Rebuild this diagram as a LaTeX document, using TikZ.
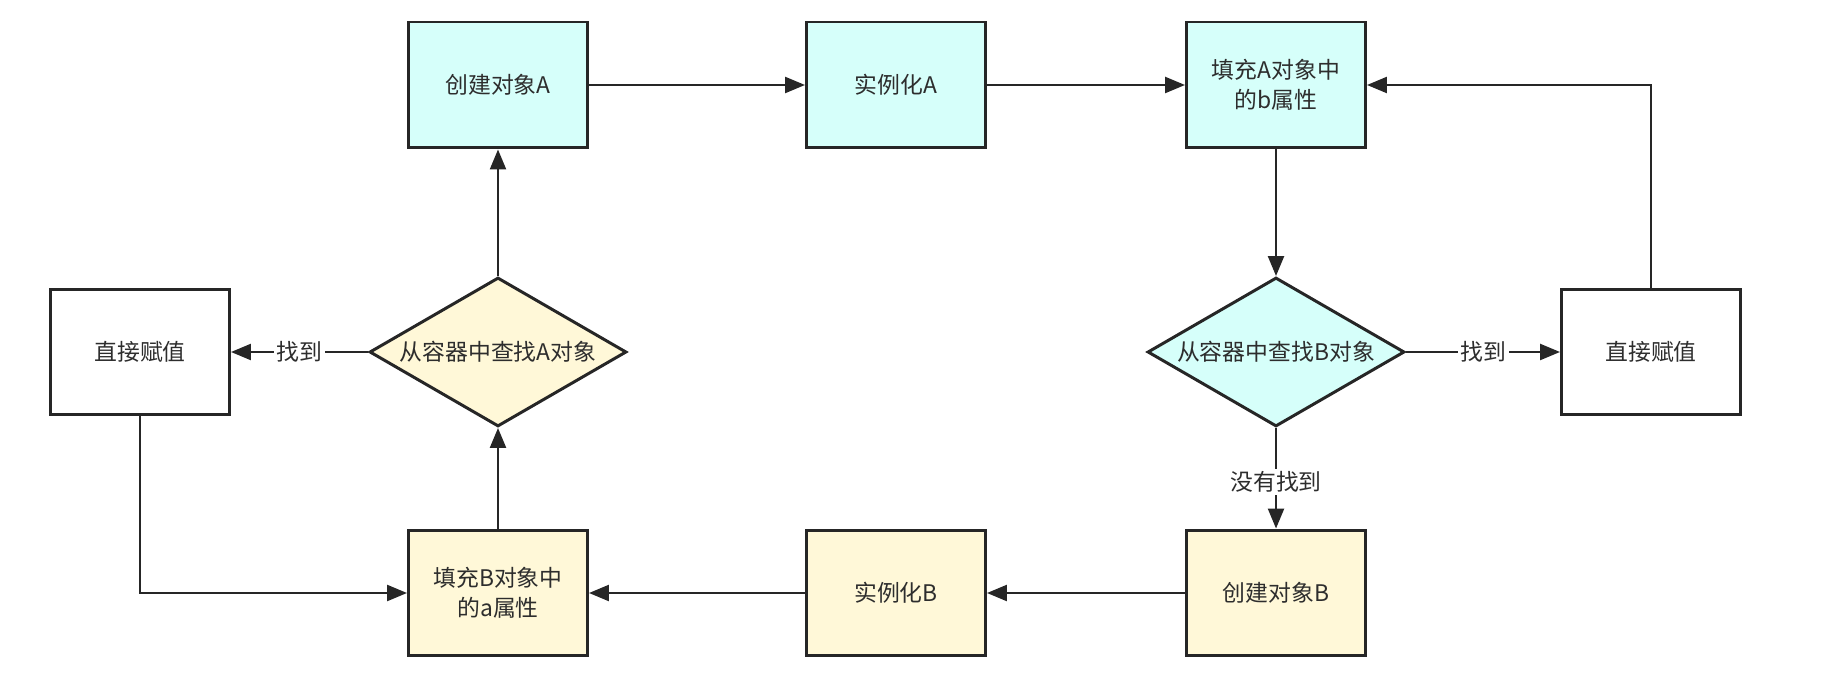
\documentclass[tikz,border=0pt]{standalone}
\usepackage{fontspec}
\newfontfamily\cjk{Noto Sans CJK SC}
\usetikzlibrary{shapes.geometric,arrows.meta}
\definecolor{boxline}{RGB}{38,38,38}
\definecolor{txt}{RGB}{45,45,45}
\definecolor{cyanfill}{RGB}{214,255,250}
\definecolor{yelfill}{RGB}{255,248,216}
\tikzset{
  every node/.style={font=\cjk\fontsize{13pt}{17pt}\selectfont,text=txt},
  stepbox/.style={draw=boxline,line width=1.7pt,minimum width=3.58cm,minimum height=2.52cm,align=center,inner sep=0pt},
  check/.style={draw=boxline,line width=1.7pt,diamond,aspect=1.72,minimum width=5.14cm,minimum height=2.98cm,inner sep=0pt},
  flow/.style={draw=boxline,line width=1.35pt,-{Triangle[length=0.4cm,width=0.32cm]}},
  lbl/.style={fill=white,inner sep=1.5pt}
}
\begin{document}
\begin{tikzpicture}[x=0.02cm,y=-0.02cm]
  \useasboundingbox (0,0) rectangle (1844,695);
  % top row
  \node [stepbox,fill=cyanfill] (ca) at (498,85) {创建对象A};
  \node [stepbox,fill=cyanfill] (ia) at (896,85) {实例化A};
  \node [stepbox,fill=cyanfill] (fa) at (1276,85) {填充A对象中\\的b属性};
  % middle row
  \node [stepbox] (vl) at (140,352) {直接赋值};
  \node [check,fill=yelfill] (da) at (498,352) {从容器中查找A对象};
  \node [check,fill=cyanfill] (db) at (1276,352) {从容器中查找B对象};
  \node [stepbox] (vr) at (1651,352) {直接赋值};
  % bottom row
  \node [stepbox,fill=yelfill] (fb) at (498,593) {填充B对象中\\的a属性};
  \node [stepbox,fill=yelfill] (ib) at (896,593) {实例化B};
  \node [stepbox,fill=yelfill] (cb) at (1276,593) {创建对象B};
  % connectors
  \draw [flow] (ca) -- (ia);
  \draw [flow] (ia) -- (fa);
  \draw [flow] (fa) -- (db);
  \draw [flow] (db) -- node [lbl] {找到} (vr);
  \draw [flow] (vr.north) |- (fa.east);
  \draw [flow] (db) -- node [lbl,pos=0.54] {没有找到} (cb);
  \draw [flow] (cb) -- (ib);
  \draw [flow] (ib) -- (fb);
  \draw [flow] (fb) -- (da);
  \draw [flow] (da) -- node [lbl] {找到} (vl);
  \draw [flow] (da) -- (ca);
  \draw [flow] (vl.south) |- (fb.west);
\end{tikzpicture}
\end{document}
